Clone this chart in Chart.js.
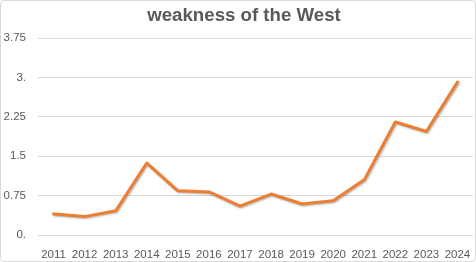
<!DOCTYPE html>
<html><head><meta charset="utf-8">
<script src="https://cdn.jsdelivr.net/npm/chart.js@4/dist/chart.umd.min.js"></script>
<style>
html,body{margin:0;padding:0;background:#fff;}
#wrap{position:absolute;left:0;top:0;width:476px;height:262px;box-sizing:border-box;border:1px solid #d9d9d9;border-radius:4px;background:#fff;}
canvas{display:block;}
</style></head><body>
<div id="wrap"><canvas id="c" width="474" height="260"></canvas></div>
<script>
const years = ['2011','2012','2013','2014','2015','2016','2017','2018','2019','2020','2021','2022','2023','2024'];
const weakness = [0.40,0.35,0.46,1.37,0.84,0.82,0.55,0.78,0.59,0.65,1.05,2.15,1.97,2.91];
const yTickLabels = ['0.','0.75','1.5','2.25','3.','3.75'];
const chartTitle = 'weakness of the West';

const titlePlugin = {
  id:'customTitle',
  afterDraw(chart){
    const ctx = chart.ctx;
    ctx.save();
    ctx.font = 'bold 18.67px "Liberation Sans", Arial, sans-serif';
    ctx.fillStyle = '#595959';
    ctx.textAlign = 'center';
    ctx.textBaseline = 'alphabetic';
    ctx.fillText(chartTitle, 243, 20);
    ctx.restore();
  }
};
const shadowPlugin = {
  id:'lineShadow',
  beforeDatasetDraw(chart){
    const ctx = chart.ctx;
    ctx.save();
    ctx.shadowColor = 'rgba(0,0,0,0.3)';
    ctx.shadowBlur = 2;
    ctx.shadowOffsetX = 1;
    ctx.shadowOffsetY = 1;
  },
  afterDatasetDraw(chart){ chart.ctx.restore(); }
};

const tickFont = { family:'"Liberation Sans", Arial, sans-serif', size:11.5 };

new Chart(document.getElementById('c'), {
  type:'line',
  data:{ labels: years, datasets:[{ data: weakness, borderColor:'#ED7D31', borderWidth:3, pointRadius:0, tension:0, fill:false, borderJoinStyle:'round', borderCapStyle:'round' }]},
  options:{
    responsive:false, animation:false,
    layout:{ padding:{ top:37, right:2, left:0, bottom:0 } },
    plugins:{ legend:{display:false}, title:{display:false}, tooltip:{enabled:false} },
    scales:{
      x:{ offset:true,
          afterFit(s){ s.height = 26; s.paddingLeft = 0; s.paddingRight = 0; },
          grid:{ display:false, drawTicks:false },
          border:{ display:false },
          ticks:{ color:'#595959', font:tickFont, padding:13, maxRotation:0, autoSkip:false }
      },
      y:{ min:0, max:3.75,
          afterFit(s){ s.width = 37; },
          afterBuildTicks(s){ s.ticks = yTickLabels.map(t=>({value: parseFloat(t)})); },
          grid:{ color:'#d9d9d9', drawTicks:false, lineWidth:1 },
          border:{ display:false },
          ticks:{ color:'#595959', font:tickFont, padding:12,
                  callback:(v,i)=>yTickLabels[i] }
      }
    }
  },
  plugins:[titlePlugin, shadowPlugin]
});
</script>
</body></html>
